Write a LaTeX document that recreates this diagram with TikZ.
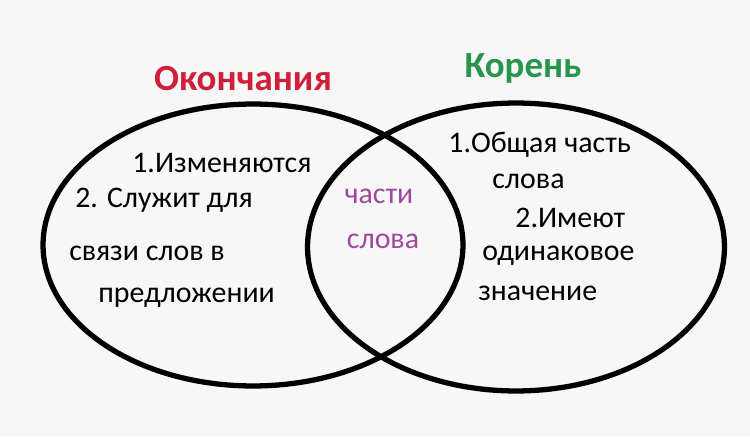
\documentclass[tikz,border=0pt]{standalone}
\usepackage{fontspec}
\setmainfont{Carlito}
\definecolor{endred}{RGB}{206,32,58}
\definecolor{rootgreen}{RGB}{40,148,78}
\definecolor{partpurple}{RGB}{160,72,160}
\definecolor{paper}{RGB}{247,247,247}
\begin{document}
\begin{tikzpicture}[x=0.02cm,y=-0.02cm,
  ring/.style={line width=3pt},
  title/.style={font=\bfseries\fontsize{21}{25}\selectfont,inner sep=0pt,anchor=base},
  item/.style={font=\fontsize{17}{20}\selectfont,inner sep=0pt,anchor=base west},
  shared/.style={item,anchor=base,text=partpurple}]
\fill[paper] (0,0) rectangle (750,436);
\useasboundingbox (0,0) rectangle (750,436);

\draw[ring] (253,245) ellipse (4.2cm and 2.82cm);
\draw[ring] (516,247) ellipse (4.17cm and 2.88cm);

\node[title,text=endred] (endings) at (243,90) {Окончания};
\node[title,text=rootgreen] (root) at (523,77) {Корень};

% left circle
\node[item] (e1) at (132,172) {1.Изменяются};
\node[item] (e2a) at (75,207) {2. Служит для};
\node[item] (e2b) at (69,260) {связи слов в};
\node[item] (e2c) at (98,302) {предложении};

% middle
\node[shared] (mid1) at (379,203) {части};
\node[shared] (mid2) at (383,248) {слова};

% right circle
\node[item] (r1a) at (448,152) {1.Общая часть};
\node[item] (r1b) at (492,188) {слова};
\node[item] (r2a) at (515,227) {2.Имеют};
\node[item] (r2b) at (482,260) {одинаковое};
\node[item] (r2c) at (478,300) {значение};
\end{tikzpicture}
\end{document}
